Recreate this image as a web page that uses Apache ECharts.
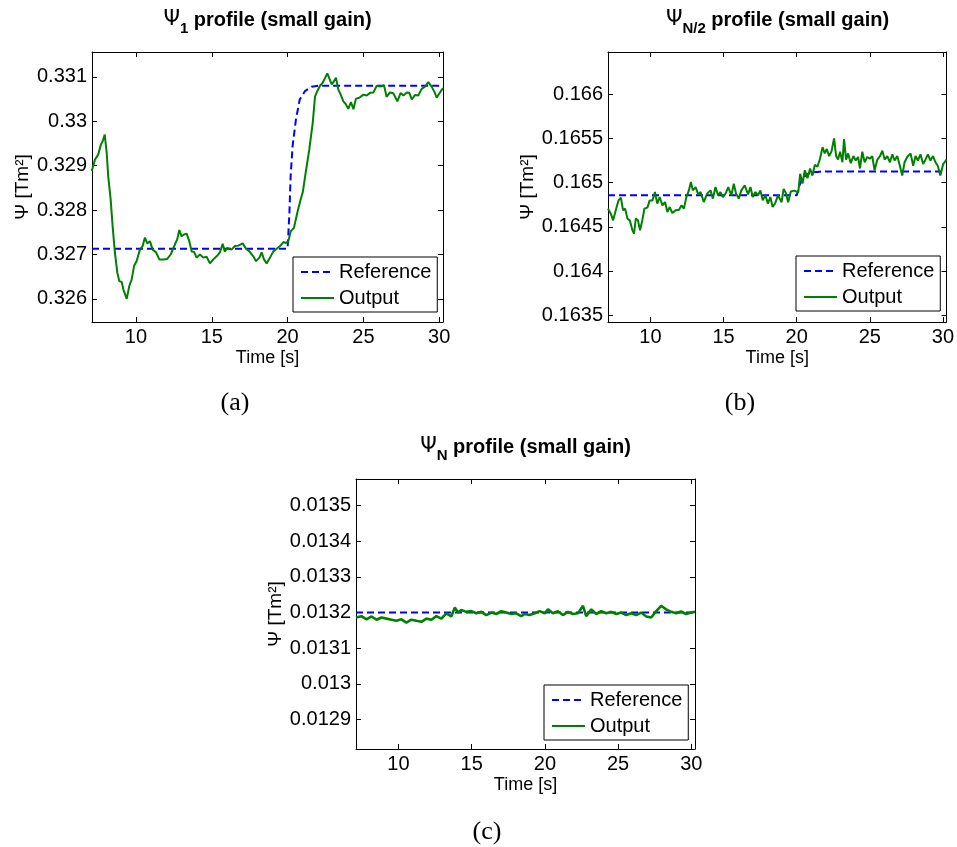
<!DOCTYPE html>
<html><head><meta charset="utf-8">
<script src="https://cdn.jsdelivr.net/npm/echarts@6/dist/echarts.min.js"></script>
<style>html,body{margin:0;padding:0;background:#fff}#c{width:957px;height:847px}</style>
</head><body><div id="c"></div>
<script>
// ---------- data ----------
const xTicks = [10, 15, 20, 25, 30];
const xRange = [7.1, 30.25];
const seriesNames = ['Reference', 'Output'];

// Panel (a): Psi_1
const titleA = ['Ψ', '1', ' profile (small gain)'];
const yTicksA = [0.326, 0.327, 0.328, 0.329, 0.33, 0.331];
const yRangeA = [0.32548, 0.33156];
const refTimeA = [7.1, 20.0, 20.05, 20.12, 20.2, 20.33, 20.55, 20.8, 21.15, 21.59, 22.03, 30.25];
const refValA = [0.32713, 0.32713, 0.32716, 0.32794, 0.32876, 0.32944, 0.33004, 0.33049, 0.33068, 0.33078, 0.3308, 0.3308];
const outTimeA = [7.08, 7.3, 7.51, 7.69, 7.8, 7.94, 8.07, 8.17, 8.33, 8.46, 8.61, 8.77, 8.9, 9.06, 9.17, 9.39, 9.56, 9.72, 9.87, 10.04,
  10.26, 10.44, 10.59, 10.75, 10.92, 11.1, 11.32, 11.54, 11.8, 12.06, 12.29, 12.42, 12.57, 12.72, 12.86, 13.01, 13.17, 13.34, 13.52, 13.67,
  13.83, 14.0, 14.22, 14.44, 14.66, 14.88, 15.1, 15.32, 15.54, 15.72, 15.86, 16.02, 16.3, 16.53, 16.75, 17.04, 17.26, 17.48, 17.74, 17.92,
  18.14, 18.29, 18.44, 18.62, 18.84, 19.06, 19.28, 19.5, 19.72, 19.9, 20.05, 20.2, 20.42, 20.64, 20.86, 21.0, 21.21, 21.43, 21.66, 21.81,
  21.96, 22.14, 22.32, 22.45, 22.62, 22.75, 22.91, 23.02, 23.19, 23.34, 23.5, 23.68, 23.85, 24.0, 24.18, 24.34, 24.51, 24.73, 25.0, 25.22,
  25.44, 25.66, 25.88, 26.1, 26.36, 26.53, 26.75, 26.97, 27.24, 27.46, 27.64, 27.86, 28.03, 28.19, 28.4, 28.62, 28.84, 29.06, 29.28, 29.5,
  29.72, 29.83, 30.05, 30.25];
const outValA = [0.32888, 0.32914, 0.32925, 0.32948, 0.32955, 0.3297, 0.32929, 0.32876, 0.32824, 0.32764, 0.32704, 0.32659, 0.3264, 0.32638, 0.32621, 0.326, 0.32629, 0.32644, 0.32674, 0.32685,
  0.32711, 0.32719, 0.32738, 0.32725, 0.3273, 0.32711, 0.32705, 0.32689, 0.32689, 0.3269, 0.327, 0.32699, 0.32723, 0.32734, 0.32755, 0.32741, 0.32745, 0.32747, 0.3273, 0.32707,
  0.32706, 0.32693, 0.327, 0.32693, 0.32695, 0.3268, 0.32689, 0.32696, 0.32705, 0.32724, 0.32706, 0.32715, 0.32711, 0.32719, 0.3272, 0.32725, 0.32713, 0.32707, 0.32696, 0.32685,
  0.32693, 0.32705, 0.32689, 0.3268, 0.32693, 0.32707, 0.32713, 0.32719, 0.32728, 0.32726, 0.3273, 0.32752, 0.3276, 0.32794, 0.32824, 0.3284, 0.32888, 0.32936, 0.32997, 0.33056,
  0.33068, 0.3308, 0.33087, 0.33086, 0.33108, 0.33105, 0.33083, 0.33088, 0.33098, 0.33072, 0.3306, 0.33045, 0.33038, 0.33028, 0.33043, 0.33027, 0.33051, 0.33053, 0.3306, 0.33058,
  0.33064, 0.33065, 0.3308, 0.33078, 0.33081, 0.33055, 0.33065, 0.33063, 0.33045, 0.33064, 0.33058, 0.33065, 0.33064, 0.33049, 0.33059, 0.33058, 0.33073, 0.33078, 0.33088, 0.33078,
  0.33064, 0.33053, 0.33065, 0.33075];

// Panel (b): Psi_N/2
const titleB = ['Ψ', 'N/2', ' profile (small gain)'];
const yTicksB = [0.1635, 0.164, 0.1645, 0.165, 0.1655, 0.166];
const yRangeB = [0.163428, 0.166474];
const refTimeB = [7.1, 20.0, 20.12, 20.2, 20.33, 20.55, 20.8, 21.15, 21.59, 22.03, 30.25];
const refValB = [0.164857, 0.164857, 0.164916, 0.164973, 0.165024, 0.16507, 0.165103, 0.165116, 0.165124, 0.165127, 0.165127];
const outTimeB = [7.1, 7.29, 7.45, 7.63, 7.82, 7.98, 8.13, 8.27, 8.43, 8.59, 8.77, 8.88, 9.0, 9.15, 9.29, 9.44, 9.59, 9.79, 9.95, 10.14,
  10.31, 10.47, 10.63, 10.82, 11.0, 11.16, 11.32, 11.5, 11.73, 11.96, 12.13, 12.29, 12.45, 12.63, 12.77, 12.9, 13.09, 13.27, 13.43, 13.65,
  13.88, 14.11, 14.27, 14.45, 14.63, 14.79, 14.95, 15.14, 15.32, 15.54, 15.7, 15.86, 16.04, 16.22, 16.45, 16.68, 16.84, 17.0, 17.18, 17.36,
  17.52, 17.68, 17.86, 18.04, 18.2, 18.36, 18.54, 18.72, 18.81, 18.97, 19.11, 19.27, 19.42, 19.6, 19.83, 20.11, 20.24, 20.4, 20.56, 20.74,
  20.92, 21.08, 21.24, 21.42, 21.6, 21.77, 21.92, 22.06, 22.22, 22.38, 22.56, 22.7, 22.83, 22.97, 23.13, 23.24, 23.38, 23.52, 23.7, 23.88,
  24.04, 24.2, 24.33, 24.49, 24.65, 24.83, 25.0, 25.17, 25.33, 25.52, 25.7, 25.86, 26.02, 26.2, 26.38, 26.54, 26.7, 26.88, 27.06, 27.22,
  27.38, 27.56, 27.79, 27.97, 28.13, 28.29, 28.47, 28.65, 28.81, 28.97, 29.15, 29.33, 29.49, 29.65, 29.83, 30.02, 30.25];
const outValB = [0.164707, 0.16465, 0.164575, 0.164688, 0.1648, 0.164831, 0.164688, 0.164707, 0.164594, 0.164575, 0.164462, 0.164425, 0.164594, 0.164575, 0.164462, 0.16457, 0.164707, 0.164718, 0.1648, 0.1648,
  0.164894, 0.164763, 0.164838, 0.164744, 0.164781, 0.164668, 0.164725, 0.164657, 0.164688, 0.164695, 0.164744, 0.164707, 0.164831, 0.164913, 0.165007, 0.164913, 0.16495, 0.164868, 0.164894, 0.164781,
  0.164876, 0.164913, 0.16482, 0.16495, 0.164857, 0.164894, 0.164838, 0.164876, 0.16495, 0.164857, 0.164989, 0.164876, 0.16482, 0.164913, 0.16497, 0.164868, 0.16495, 0.164838, 0.164894, 0.164857,
  0.164913, 0.1648, 0.164857, 0.164763, 0.164838, 0.164725, 0.16477, 0.164857, 0.16486, 0.16478, 0.16493, 0.16488, 0.16478, 0.1649, 0.16491, 0.16489, 0.1651, 0.16499, 0.16514, 0.16505,
  0.16516, 0.16508, 0.1652, 0.16518, 0.16527, 0.1654, 0.16533, 0.16538, 0.1653, 0.16535, 0.1655, 0.1653, 0.16526, 0.16535, 0.16523, 0.16549, 0.16526, 0.16533, 0.16522, 0.1653,
  0.16525, 0.16529, 0.16516, 0.16535, 0.16523, 0.16529, 0.16527, 0.1653, 0.16514, 0.16526, 0.1653, 0.16536, 0.16526, 0.1653, 0.16523, 0.16532, 0.16525, 0.1653, 0.16519, 0.16508,
  0.16523, 0.16529, 0.16533, 0.16519, 0.1653, 0.16525, 0.16532, 0.16521, 0.16526, 0.16532, 0.16525, 0.1653, 0.16523, 0.16519, 0.16508, 0.16521, 0.16526];

// Panel (c): Psi_N
const titleC = ['Ψ', 'N', ' profile (small gain)'];
const yTicksC = [0.0129, 0.013, 0.0131, 0.0132, 0.0133, 0.0134, 0.0135];
const yRangeC = [0.012817, 0.013575];
const refTimeC = [7.1, 30.25];
const refValC = [0.0132, 0.0132];
const outTimeC = [7.1, 7.47, 7.82, 8.16, 8.5, 8.84, 9.18, 9.52, 9.86, 10.2, 10.54, 10.88, 11.22, 11.57, 11.91, 12.25, 12.59, 12.93, 13.27, 13.61,
  13.84, 14.07, 14.29, 14.63, 14.97, 15.32, 15.66, 16.0, 16.34, 16.68, 17.02, 17.36, 17.7, 18.04, 18.38, 18.62, 18.96, 19.3, 19.64, 19.98,
  20.21, 20.55, 20.89, 21.23, 21.57, 21.92, 22.26, 22.6, 22.82, 23.17, 23.51, 23.85, 24.19, 24.53, 24.87, 25.21, 25.55, 25.89, 26.23, 26.57,
  26.92, 27.26, 27.6, 27.94, 28.28, 28.62, 28.96, 29.3, 29.64, 29.98, 30.25];
const outValC = [0.013186, 0.01319, 0.013181, 0.013189, 0.01318, 0.013186, 0.013183, 0.01318, 0.013177, 0.013181, 0.013172, 0.01318, 0.013177, 0.013174, 0.013183, 0.01318, 0.01319, 0.013183, 0.013198, 0.013189,
  0.013214, 0.0132, 0.013207, 0.013202, 0.013204, 0.013198, 0.013202, 0.013193, 0.0132, 0.013196, 0.013204, 0.0132, 0.013196, 0.013198, 0.01319, 0.013196, 0.013193, 0.013198, 0.013204, 0.013198,
  0.013209, 0.013198, 0.013204, 0.013193, 0.013202, 0.013196, 0.013198, 0.013219, 0.01319, 0.013209, 0.013196, 0.013204, 0.013198, 0.013202, 0.013196, 0.0132, 0.013193, 0.013198, 0.013193, 0.0132,
  0.013189, 0.013186, 0.013204, 0.013219, 0.013209, 0.013202, 0.013198, 0.013203, 0.013196, 0.0132, 0.013202];

const captions = ['(a)', '(b)', '(c)'];

// ---------- layout / style ----------
const FONT = 'Liberation Sans, Arial, Helvetica, sans-serif';
const panels = [
  { grid: { left: 92, top: 52, width: 351, height: 270 }, yRange: yRangeA, yTicks: yTicksA, yNameGap: 60, outWidth: 2,
    ref: [refTimeA, refValA], out: [outTimeA, outValA], title: titleA, titleY: 20, caption: [235, 403],
    legend: { left: 293, top: 257 } },
  { grid: { left: 608, top: 52, width: 339, height: 270 }, yRange: yRangeB, yTicks: yTicksB, yNameGap: 71, outWidth: 2,
    ref: [refTimeB, refValB], out: [outTimeB, outValB], title: titleB, titleY: 20, caption: [740, 403],
    legend: { left: 796, top: 256 } },
  { grid: { left: 356, top: 479, width: 339, height: 270 }, yRange: yRangeC, yTicks: yTicksC, yNameGap: 71, outWidth: 2.6,
    ref: [refTimeC, refValC], out: [outTimeC, outValC], title: titleC, titleY: 447, caption: [487, 832],
    legend: { left: 544, top: 685 } }
];

const zip = (t, v) => t.map((x, i) => [x, v[i]]);
const fmt = v => String(parseFloat(Number(v).toPrecision(6)));

const option = { animation: false, grid: [], xAxis: [], yAxis: [], series: [], legend: [], graphic: [] };
const lineAx = { show: true, onZero: false, lineStyle: { color: '#000', width: 1 } };

panels.forEach((p, i) => {
  option.grid.push(Object.assign({ containLabel: false }, p.grid));
  option.xAxis.push({
    type: 'value', gridIndex: i, position: 'bottom', min: xRange[0], max: xRange[1],
    axisLine: lineAx, splitLine: { show: false },
    axisTick: { show: true, inside: true, length: 5, customValues: xTicks, lineStyle: { color: '#000' } },
    axisLabel: { show: true, margin: 5, customValues: xTicks, fontSize: 20, fontFamily: FONT, color: '#000', formatter: fmt },
    name: 'Time [s]', nameLocation: 'middle', nameGap: 27,
    nameTextStyle: { fontSize: 18, fontFamily: FONT, color: '#000' }
  });
  option.xAxis.push({
    type: 'value', gridIndex: i, position: 'top', min: xRange[0], max: xRange[1],
    axisLine: lineAx, splitLine: { show: false },
    axisTick: { show: true, inside: true, length: 5, customValues: xTicks, lineStyle: { color: '#000' } },
    axisLabel: { show: false }
  });
  option.yAxis.push({
    type: 'value', gridIndex: i, position: 'left', min: p.yRange[0], max: p.yRange[1],
    axisLine: lineAx, splitLine: { show: false },
    axisTick: { show: true, inside: true, length: 5, customValues: p.yTicks, lineStyle: { color: '#000' } },
    axisLabel: { show: true, margin: 5, customValues: p.yTicks, fontSize: 20, fontFamily: FONT, color: '#000', formatter: fmt },
    name: 'Ψ [Tm²]', nameLocation: 'middle', nameGap: p.yNameGap, nameRotate: 90,
    nameTextStyle: { fontSize: 19, fontFamily: FONT, color: '#000' }
  });
  option.yAxis.push({
    type: 'value', gridIndex: i, position: 'right', min: p.yRange[0], max: p.yRange[1],
    axisLine: lineAx, splitLine: { show: false },
    axisTick: { show: true, inside: true, length: 5, customValues: p.yTicks, lineStyle: { color: '#000' } },
    axisLabel: { show: false }
  });
  option.series.push({
    name: seriesNames[0], type: 'line', xAxisIndex: 2 * i, yAxisIndex: 2 * i,
    data: zip(p.ref[0], p.ref[1]), symbol: 'none', showSymbol: false, clip: true,
    lineStyle: { color: '#0000ff', width: 2, type: [7, 4] }, itemStyle: { color: '#0000ff' }, z: 2
  });
  option.series.push({
    name: seriesNames[1], type: 'line', xAxisIndex: 2 * i, yAxisIndex: 2 * i,
    data: zip(p.out[0], p.out[1]), symbol: 'none', showSymbol: false, clip: true,
    lineStyle: { color: '#008000', width: p.outWidth }, itemStyle: { color: '#008000' }, z: 3
  });
  option.legend.push({
    orient: 'vertical', left: p.legend.left, top: p.legend.top,
    padding: [5, 6, 4, 7], itemGap: 6, itemWidth: 33, itemHeight: 20,
    borderColor: '#000', borderWidth: 1, backgroundColor: '#fff', selectedMode: false,
    itemStyle: { opacity: 0, borderWidth: 0 },
    lineStyle: { width: 2 },
    textStyle: { fontSize: 20, fontFamily: FONT, color: '#000', lineHeight: 20 },
    data: seriesNames, z: 10
  });
  const cx = p.grid.left + p.grid.width / 2;
  option.graphic.push({
    type: 'text', x: cx, y: p.titleY, z: 20,
    style: {
      text: '{g|' + p.title[0] + '}{s|' + p.title[1] + '}{b|' + p.title[2] + '}',
      align: 'center', verticalAlign: 'middle', fill: '#000',
      rich: {
        g: { fontSize: 21, fontFamily: 'DejaVu Sans', fontWeight: 'normal', lineHeight: 32, verticalAlign: 'middle', fill: '#000' },
        s: { fontSize: 15, fontFamily: FONT, fontWeight: 'bold', lineHeight: 15, verticalAlign: 'bottom', fill: '#000' },
        b: { fontSize: 20, fontFamily: FONT, fontWeight: 'bold', lineHeight: 32, verticalAlign: 'middle', fill: '#000' }
      }
    }
  });
  option.graphic.push({
    type: 'text', x: p.caption[0], y: p.caption[1], z: 20,
    style: { text: captions[i], align: 'center', verticalAlign: 'middle', fill: '#000',
      font: '26px "Liberation Serif", "DejaVu Serif", serif' }
  });
});

const chart = echarts.init(document.getElementById('c'), null, { renderer: 'canvas' });
chart.setOption(option);
</script>
</body></html>
